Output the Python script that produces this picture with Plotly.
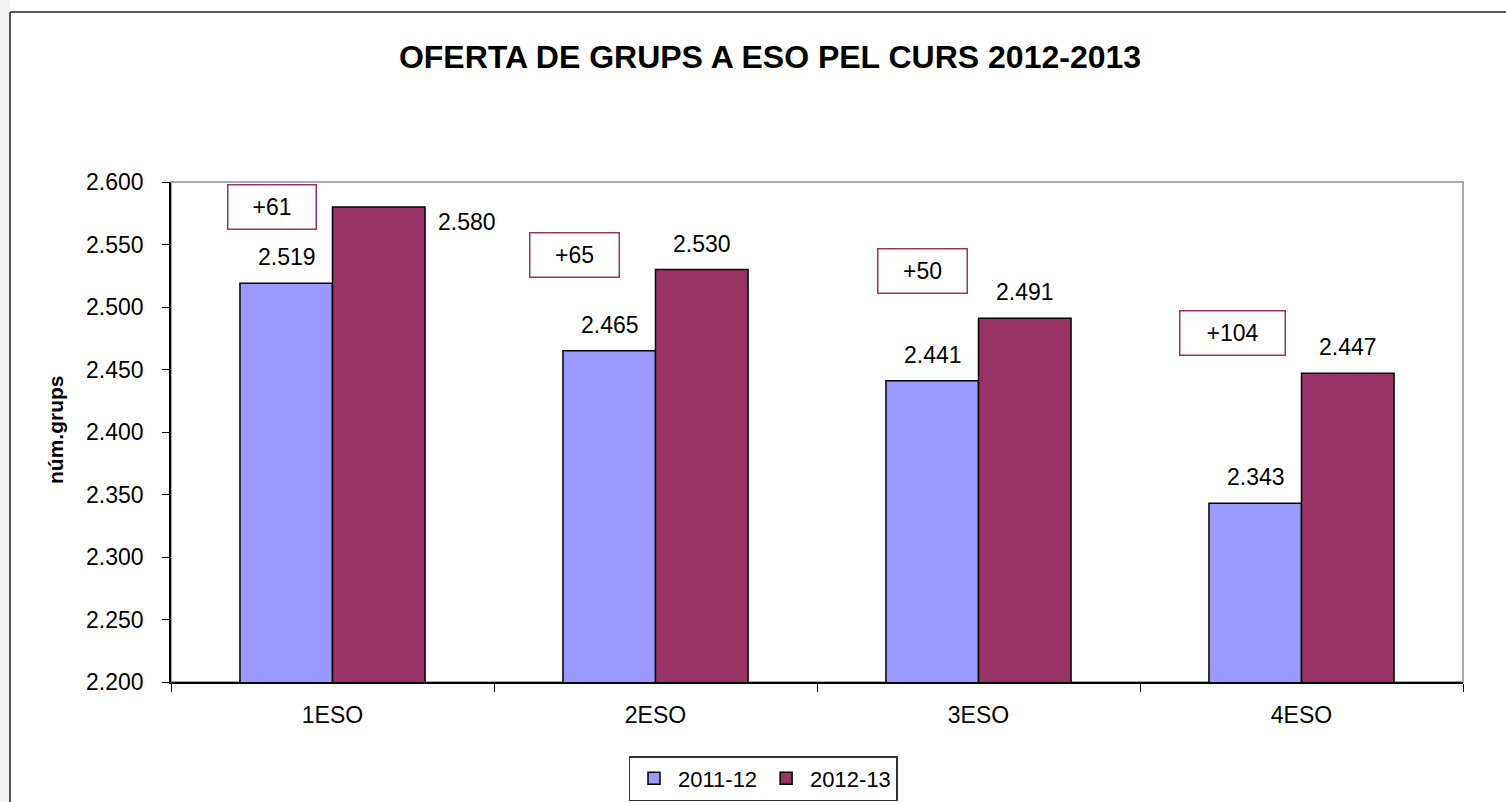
import plotly.graph_objects as go

categories = ["1ESO", "2ESO", "3ESO", "4ESO"]
series_names = ["2011-12", "2012-13"]
values_2011 = [2519, 2465, 2441, 2343]
values_2012 = [2580, 2530, 2491, 2447]
y_ticks = [2200, 2250, 2300, 2350, 2400, 2450, 2500, 2550, 2600]

title_text = "OFERTA DE GRUPS A ESO PEL CURS 2012-2013"
y_title = "núm.grups"

# layout/pixel geometry (not data)
W, H = 1506, 802
L, R, T, B = 171, 1463, 182, 682
def px(xp):
    return (xp - L) / (R - L)
def py(yp):
    return (B - yp) / (B - T)

FONT = "Liberation Sans, Arial, sans-serif"
C1 = "#9999FF"
C2 = "#993366"
FS = 23

fig = go.Figure()
fig.add_trace(go.Bar(x=categories, y=values_2011, name=series_names[0],
                     marker=dict(color=C1, line=dict(color="#000000", width=1.5))))
fig.add_trace(go.Bar(x=categories, y=values_2012, name=series_names[1],
                     marker=dict(color=C2, line=dict(color="#000000", width=1.5))))

def fmt(v):
    return f"{v:,}".replace(",", ".")

annotations = []
for i, c in enumerate(categories):
    annotations.append(dict(x=c, y=values_2011[i], xref="x", yref="y", text=fmt(values_2011[i]),
                            showarrow=False, xshift=-46, yshift=26,
                            xanchor="center", yanchor="middle",
                            font=dict(family=FONT, size=FS, color="#000")))
    if i == 0:
        annotations.append(dict(x=c, y=values_2012[i], xref="x", yref="y", text=fmt(values_2012[i]),
                                showarrow=False, xshift=134, yshift=-15,
                                xanchor="center", yanchor="middle",
                                font=dict(family=FONT, size=FS, color="#000")))
    else:
        annotations.append(dict(x=c, y=values_2012[i], xref="x", yref="y", text=fmt(values_2012[i]),
                                showarrow=False, xshift=46, yshift=26,
                                xanchor="center", yanchor="middle",
                                font=dict(family=FONT, size=FS, color="#000")))

box_centers = [(272, 206.5, 90), (574.5, 255, 91), (922.5, 270.5, 91), (1232.5, 333, 107)]
for i, (cx, cy, bw) in enumerate(box_centers):
    diff = values_2012[i] - values_2011[i]
    annotations.append(dict(x=px(cx), y=py(cy), xref="paper", yref="paper",
                            xanchor="center", yanchor="middle",
                            text=f"+{diff}", showarrow=False,
                            width=bw - 5, height=41, bordercolor=C2, borderwidth=1.5,
                            borderpad=1, bgcolor="#ffffff", align="center",
                            font=dict(family=FONT, size=FS, color="#000")))

annotations.append(dict(x=px(55), y=py(430), xref="paper", yref="paper", text=f"<b>{y_title}</b>",
                        xanchor="center", yanchor="middle",
                        textangle=-90, showarrow=False,
                        font=dict(family=FONT, size=21, color="#000")))

shapes = [
    dict(type="rect", xref="paper", yref="paper", x0=px(-10), x1=px(10), y0=py(H + 40), y1=py(-10),
         fillcolor="#f1f1f1", line=dict(width=0), layer="below"),
    dict(type="line", xref="paper", yref="paper", x0=px(10), x1=px(10), y0=py(12), y1=py(H + 40),
         line=dict(color="#222222", width=1.5)),
    dict(type="line", xref="paper", yref="paper", x0=px(10), x1=px(W + 40), y0=py(12), y1=py(12),
         line=dict(color="#222222", width=1.5)),
    dict(type="rect", xref="paper", yref="paper", x0=0, x1=1, y0=0, y1=1,
         line=dict(color="#909090", width=1.5), layer="below"),
]

fig.update_layout(
    width=W, height=H,
    margin=dict(l=L, r=W - R, t=T, b=H - B, autoexpand=False),
    paper_bgcolor="#ffffff", plot_bgcolor="#ffffff",
    separators=",.",
    barmode="group", bargap=0.427, bargroupgap=0,
    title=dict(text=f"<b>{title_text}</b>", x=770 / W, xanchor="center",
               y=1 - 57 / H, yanchor="middle", yref="container",
               font=dict(family=FONT, size=32, color="#000")),
    font=dict(family=FONT, size=FS, color="#000"),
    xaxis=dict(showline=True, linecolor="#000000", linewidth=1.5, ticks="outside",
               tickson="boundaries", ticklen=8, tickcolor="#000000", tickwidth=1,
               showgrid=False, ticklabelstandoff=12,
               tickfont=dict(family=FONT, size=FS, color="#000")),
    yaxis=dict(range=[y_ticks[0], y_ticks[-1]], tickvals=y_ticks, tickformat=",d",
               showline=True, linecolor="#000000", linewidth=1.5, ticks="outside",
               ticklen=7, tickcolor="#000000", tickwidth=1, showgrid=False,
               ticklabelstandoff=14, zeroline=False,
               tickfont=dict(family=FONT, size=FS, color="#000")),
    legend=dict(orientation="h", x=px(763), xanchor="center", y=py(756), yanchor="top",
                bgcolor="#ffffff", bordercolor="#333333", borderwidth=1.5,
                font=dict(family=FONT, size=22, color="#000"), itemwidth=38,
                traceorder="normal"),
    annotations=annotations,
    shapes=shapes,
)

fig.write_html("out.html", config={"displayModeBar": False},
               post_script="document.body.style.margin='0';document.documentElement.style.overflow='hidden';")
